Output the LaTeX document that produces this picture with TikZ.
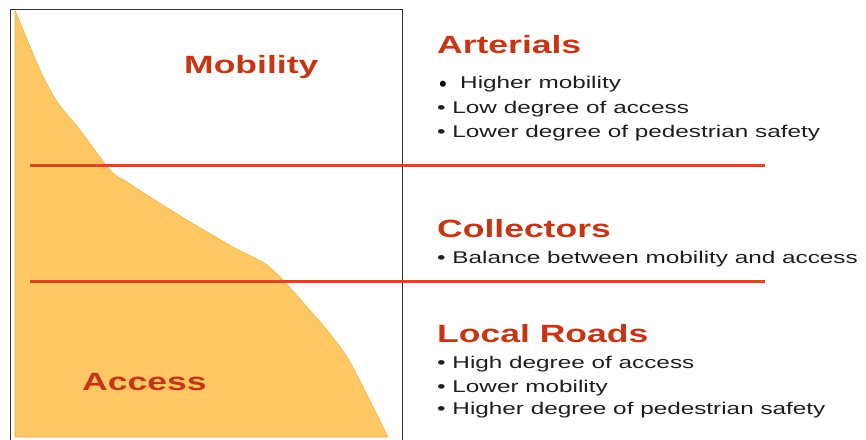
\documentclass[tikz,border=0pt]{standalone}
\usepackage{fontspec}
\setmainfont{Liberation Sans}
\newfontfamily\hdfont{Liberation Sans}[FakeStretch=1.42]
\newfontfamily\bdfont{Liberation Sans}[FakeStretch=1.43]
\definecolor{headred}{RGB}{198,54,20}
\definecolor{linered}{RGB}{214,72,34}
\definecolor{fillorange}{RGB}{253,200,100}
\definecolor{edgeorange}{RGB}{240,180,70}
\definecolor{bodytext}{RGB}{30,30,30}
\tikzset{
  head/.style={anchor=base west, inner sep=0pt, text=headred, font=\hdfont\bfseries\fontsize{25}{25}\selectfont},
  item/.style={anchor=base west, inner sep=0pt, text=bodytext, font=\bdfont\fontsize{17}{17}\selectfont},
  divider/.style={draw=linered, line width=3pt},
}
\begin{document}
\begin{tikzpicture}[x=1pt,y=-1pt]
\useasboundingbox (0,0) rectangle (866,439);
% access fill
\fill[fillorange, draw=edgeorange, line width=0.6pt] (15,437) -- plot[smooth, tension=0.5] coordinates {(15,10) (40,70) (58,103) (80,130) (110,170) (127,182) (150,197) (187,220) (233,247) (253,257) (267,265) (283,280) (307,307) (327,330) (347,357) (363,387) (388,437)} -- cycle;
% frame
\draw[line width=1pt, black!80] (10,440) -- (10,9) -- (402,9) -- (402,440);
% dividers
\coordinate (l1a) at (30,165);
\coordinate (l1b) at (765,165);
\coordinate (l2a) at (30,281);
\coordinate (l2b) at (765,281);
\draw[divider] (l1a) -- (l1b);
\draw[divider] (l2a) -- (l2b);
% labels in chart
\node[head] (mob) at (184,73) {Mobility};
\node[head] (acc) at (82,390) {Access};
% arterials
\node[head] (art) at (437,53) {Arterials};
\node[anchor=base, inner sep=0pt, text=black, font=\fontsize{22}{22}\selectfont] (b0) at (443,91) {\textbullet};
\node[item] (a1) at (460,88) {Higher mobility};
\node[item] (a2) at (437,113) {• Low degree of access};
\node[item] (a3) at (437,137) {• Lower degree of pedestrian safety};
% collectors
\node[head] (col) at (437,237) {Collectors};
\node[item] (c1) at (437,263) {• Balance between mobility and access};
% local roads
\node[head] (loc) at (437,342) {Local Roads};
\node[item] (r1) at (437,368) {• High degree of access};
\node[item] (r2) at (437,392) {• Lower mobility};
\node[item] (r3) at (437,414) {• Higher degree of pedestrian safety};
\end{tikzpicture}
\end{document}
